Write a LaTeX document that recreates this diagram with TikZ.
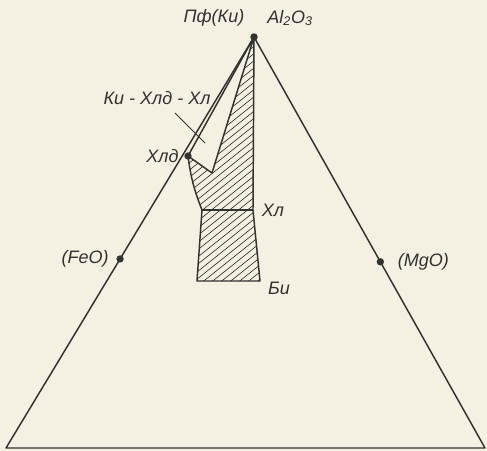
\documentclass[tikz,border=0pt]{standalone}
\usepackage{fontspec}
\setmainfont{Liberation Sans}
\usetikzlibrary{positioning,calc}
\definecolor{paper}{RGB}{244,240,226}
\definecolor{ink}{RGB}{50,50,48}

\begin{document}
\begin{tikzpicture}[
  x=0.75pt, y=-0.75pt,
  edge/.style={draw=ink, line width=1.1pt, line join=round},
  hatch/.style={draw=ink, line width=0.5pt},
  leader/.style={draw=ink, line width=0.7pt},
  lbl/.style={text=ink, font=\fontsize{13.5}{15}\selectfont\itshape, inner sep=1pt},
  pt/.style={circle, fill=ink, inner sep=0pt, minimum size=5.5pt}
]
\fill[paper] (0,0) rectangle (487,451);
\useasboundingbox (0,0) rectangle (487,451);
\coordinate (top) at (254,37);
\coordinate (fe) at (6,448);
\coordinate (mg) at (485,448);
\coordinate (notch) at (212,173);
\coordinate (xlL) at (202,210);
\coordinate (xlR) at (253,210);
\coordinate (biL) at (197,281);
\coordinate (biR) at (260,281);
\coordinate (ldA) at (175,113);
\coordinate (ldB) at (205,143);
\begin{scope}
  \clip (top) -- (notch) -- (188,156) to[bend right=7] (xlL) -- (biL) -- (biR) -- (xlR) -- cycle;
  \foreach \x in {-90,-81,...,250} \draw[hatch] (\x,300) -- ++(360,-288);
\end{scope}
\draw[edge] (top) -- (fe) -- (mg) -- cycle;
\node[pt] (hld) at (188,156) {};
\node[pt] (feo) at ($(top)!0.54!(fe)$) {};
\node[pt] (mgo) at ($(top)!0.547!(mg)$) {};
\draw[edge] (top) -- (hld.center) -- (notch) -- cycle;
\draw[edge] (hld.center) to[bend right=7] (xlL) -- (biL) -- (biR) -- (xlR) -- (top);
\draw[edge] (xlL) -- (xlR);
\draw[leader] (ldA) -- (ldB);
\fill[ink] (top) circle (2.8pt);
\node[lbl] (pf) at (214,18) {Пф(Ки)};
\node[lbl] (al) at (290,18) {Al\textsubscript{2}O\textsubscript{3}};
\node[lbl] (kxx) at (157,98) {Ки - Хлд - Хл};
\node[lbl, left=3pt of hld] (hldl) {Хлд};
\node[lbl, right=5.5pt of xlR] (xl) {Хл};
\node[lbl] (bi) at (279,288) {Би};
\node[lbl, left=4.5pt of feo] (feol) {(FeO)};
\node[lbl, right=9pt of mgo] (mgol) {(MgO)};
\end{tikzpicture}
\end{document}
